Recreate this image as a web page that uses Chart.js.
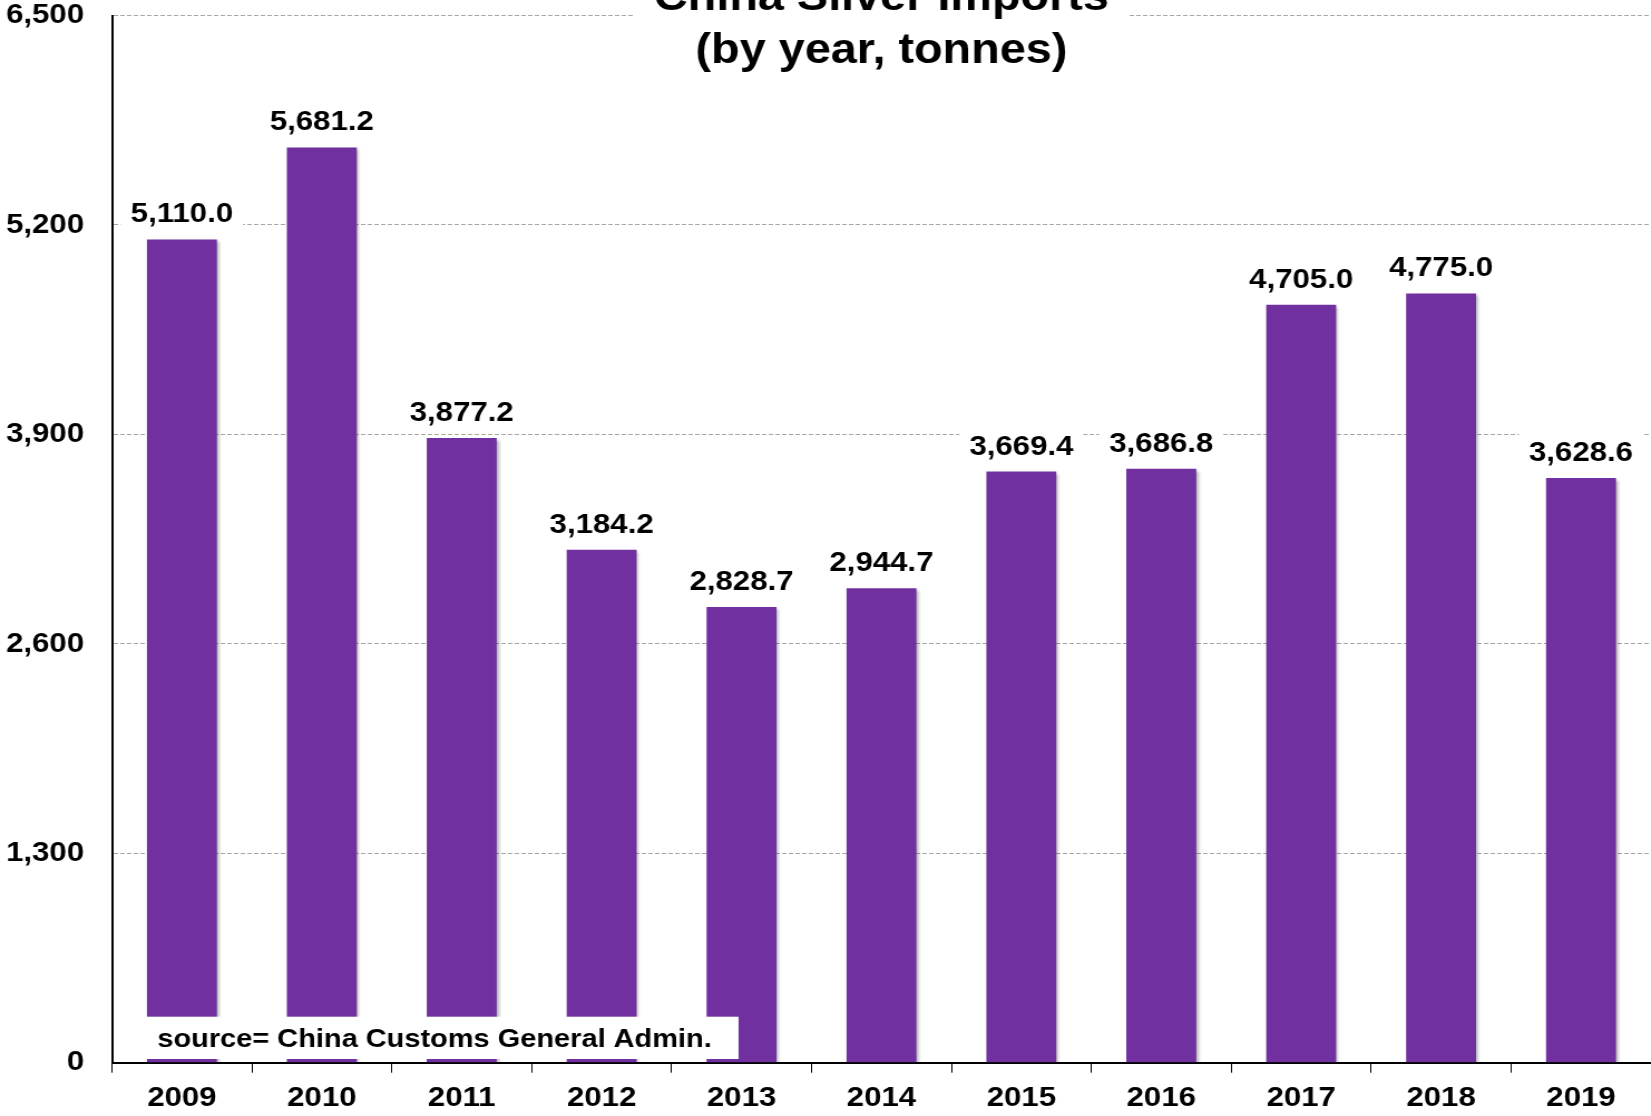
<!DOCTYPE html>
<html>
<head>
<meta charset="utf-8">
<script src="https://cdn.jsdelivr.net/npm/chart.js@4.4.0/dist/chart.umd.min.js"></script>
<style>
html,body{margin:0;padding:0;background:#fff;overflow:hidden;width:1651px;height:1116px;}
#wrap{position:absolute;left:0;top:0;width:1482px;height:1116px;transform:scaleX(1.114);transform-origin:0 0;}
</style>
</head>
<body>
<div id="wrap"><canvas id="c"></canvas></div>
<script>
const categories = ['2009','2010','2011','2012','2013','2014','2015','2016','2017','2018','2019'];
const imports = [5110.0, 5681.2, 3877.2, 3184.2, 2828.7, 2944.7, 3669.4, 3686.8, 4705.0, 4775.0, 3628.6];
const yTicks = [0, 1300, 2600, 3900, 5200, 6500];
const titleLines = ['China Silver Imports', '(by year, tonnes)'];
const sourceNote = 'source= China Customs General Admin.';

const FONT = '"Liberation Sans", Arial, Helvetica, sans-serif';
const BAR = '#7030A0';

function fmt1(v){ return v.toLocaleString('en-US',{minimumFractionDigits:1,maximumFractionDigits:1}); }

const shadowPlugin = {
  id:'barShadow',
  beforeDatasetsDraw(chart){
    const c = chart.ctx; c.save();
    c.shadowColor = 'rgba(0,0,0,0.32)';
    c.shadowBlur = 3; c.shadowOffsetX = 2; c.shadowOffsetY = 2;
  },
  afterDatasetsDraw(chart){ chart.ctx.restore(); }
};

const overlayPlugin = {
  id:'overlay',
  afterDraw(chart){
    const c = chart.ctx, area = chart.chartArea;
    // value labels
    const meta = chart.getDatasetMeta(0);
    c.save();
    c.font = 'bold 28px ' + FONT;
    c.textAlign = 'center';
    c.textBaseline = 'alphabetic';
    meta.data.forEach((bar, i) => {
      const txt = fmt1(imports[i]);
      const w = c.measureText(txt).width;
      const by = bar.y - 17;
      c.fillStyle = '#fff';
      c.fillRect(bar.x - w/2 - 9, by - 29, w + 18, 35);
      c.fillStyle = '#000';
      c.fillText(txt, bar.x, by);
    });
    c.restore();

    // title
    c.save();
    const cx = (area.left + area.right) / 2;
    c.fillStyle = '#fff';
    c.fillRect(cx - 222, 0, 444, 72);
    c.fillStyle = '#000';
    c.font = 'bold 42px ' + FONT;
    c.textAlign = 'center';
    c.textBaseline = 'alphabetic';
    c.fillText(titleLines[0], cx, 10);
    c.fillText(titleLines[1], cx, 63);
    c.restore();

    // source note
    c.save();
    c.font = 'bold 26px ' + FONT;
    const sx = 141.2;
    const sw = c.measureText(sourceNote).width;
    c.fillStyle = '#fff';
    c.fillRect(sx - 24, 1016.7, sw + 48, 42.3);
    c.fillStyle = '#000';
    c.textAlign = 'left';
    c.textBaseline = 'alphabetic';
    c.fillText(sourceNote, sx, 1047.3);
    c.restore();
  }
};

new Chart(document.getElementById('c'), {
  type: 'bar',
  data: {
    labels: categories,
    datasets: [{
      data: imports,
      backgroundColor: BAR,
      borderWidth: 0,
      barPercentage: 0.5,
      categoryPercentage: 1.0
    }]
  },
  options: {
    responsive: true,
    maintainAspectRatio: false,
    animation: false,
    layout: { padding: { top: 15.5, right: 0, bottom: 0, left: 0 } },
    plugins: { legend: { display: false }, title: { display: false }, tooltip: { enabled: false } },
    scales: {
      x: {
        offset: true,
        grid: { display: true, drawOnChartArea: false, drawTicks: true, tickLength: 10, color: '#000', lineWidth: 1, offset: true },
        border: { display: true, color: '#000', width: 2 },
        ticks: { color: '#000', padding: 9, font: { family: FONT, size: 28, weight: 'bold' }, maxRotation: 0, autoSkip: false },
        afterFit(s){ s.height = 53.3; s.paddingLeft = 0; s.paddingRight = 0; }
      },
      y: {
        min: 0, max: 6500,
        afterBuildTicks(s){ s.ticks = yTicks.map(v => ({ value: v })); },
        grid: { display: true, drawTicks: false, color: '#a6a6a6', lineWidth: 1 },
        border: { display: true, color: '#000', width: 2, dash: [4, 2] },
        ticks: { color: '#000', padding: 25, font: { family: FONT, size: 28, weight: 'bold', lineHeight: 1.0 },
                 callback: (v) => Number(v).toLocaleString('en-US') },
        afterFit(s){ s.width = 100.5; s.paddingTop = 0; s.paddingBottom = 0; }
      }
    }
  },
  plugins: [shadowPlugin, overlayPlugin]
});
</script>
</body>
</html>
